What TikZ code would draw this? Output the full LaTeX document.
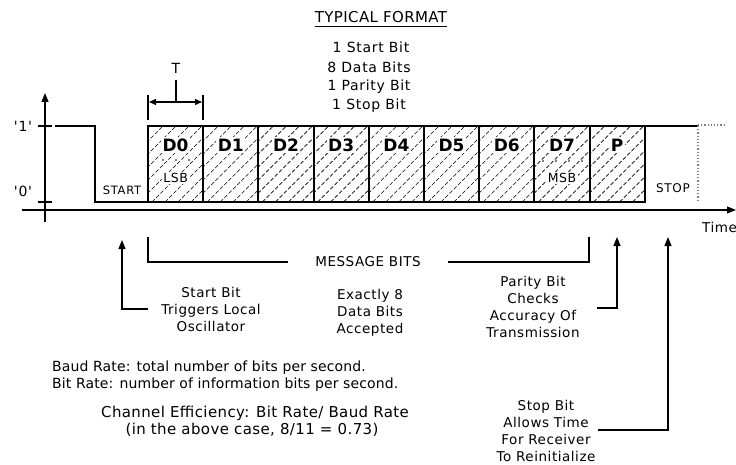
\documentclass[tikz,border=0pt]{standalone}
\usepackage{fontspec}
\setmainfont{DejaVu Sans}
\newfontfamily\fannot[LetterSpace=4]{DejaVu Sans}
\newfontfamily\flist[LetterSpace=5]{DejaVu Sans}
\newfontfamily\fwide[LetterSpace=2.5]{DejaVu Sans}
\newfontfamily\fbaud[LetterSpace=1]{DejaVu Sans}
\newfontfamily\fsmall[LetterSpace=6]{DejaVu Sans}
\usetikzlibrary{arrows.meta}
\tikzset{
  sig/.style={line width=2pt},
  thin/.style={line width=1.3pt},
  tri/.style={-{Triangle[length=9pt,width=7pt]}},
  txt/.style={inner sep=0pt, align=center},
  annot/.style={txt, font=\fannot\fontsize{13.5}{17}\selectfont},
  listtxt/.style={txt, font=\flist\fontsize{14}{17}\selectfont},
  widetxt/.style={txt, font=\fwide\fontsize{15}{17}\selectfont},
  baudtxt/.style={txt, font=\fbaud\fontsize{14}{17}\selectfont},
  smalltxt/.style={txt, font=\fsmall\fontsize{11.5}{14}\selectfont},
  bitlbl/.style={inner sep=1.5pt, fill=white, font=\fontsize{17}{17}\bfseries\selectfont},
  sublbl/.style={inner sep=1.5pt, fill=white, font=\fannot\fontsize{12.5}{12.5}\selectfont},
  hatch/.style={line width=0.6pt, dash pattern=on 4pt off 2pt},
}
\begin{document}
\begin{tikzpicture}[x=1pt,y=-1pt]
\useasboundingbox (0,0) rectangle (736,465);
% hatched boxes
\foreach \i in {0,...,8} {
  \pgfmathsetmacro{\xa}{148+55.2*\i}
  \pgfmathsetmacro{\xb}{148+55.2*(\i+1)}
  \begin{scope}
    \clip (\xa,126) rectangle (\xb,202);
    \foreach \k in {-100,-87,...,100} {
      \draw[hatch] (\xa+\k,202) -- (\xa+\k+76,126);
    }
  \end{scope}
  \draw[sig] (\xa,126) rectangle (\xb,202);
}
% labels
\node[bitlbl] (d0) at (175.6,145) {D0};
\node[bitlbl] (d1) at (230.8,145) {D1};
\node[bitlbl] (d2) at (286.0,145) {D2};
\node[bitlbl] (d3) at (341.2,145) {D3};
\node[bitlbl] (d4) at (396.4,145) {D4};
\node[bitlbl] (d5) at (451.6,145) {D5};
\node[bitlbl] (d6) at (506.8,145) {D6};
\node[bitlbl] (d7) at (562.0,145) {D7};
\node[bitlbl] (p) at (617.2,145) {P};
\node[sublbl] (lsb) at (175.6,178) {LSB};
\node[sublbl] (msb) at (562.0,178) {MSB};
\foreach \x in {163,176,189} \fill (\x,160) circle (0.8pt);
\foreach \x in {543,556,569,582} \fill (\x,161) circle (0.8pt);
% signal
\draw[sig] (55,126) -- (95,126) -- (95,202) -- (148,202) -- (148,126) -- (698,126);
\draw[line width=1.2pt, gray, dotted] (698,126) -- (698,200);
\draw[line width=1.2pt, gray, dotted] (698,125) -- (726,125);
% axes
\coordinate (ya) at (45,222);
\coordinate (yb) at (45,93);
\draw[thin, tri] (ya) -- (yb);
\coordinate (xa) at (22,210);
\coordinate (xb) at (736,210);
\draw[thin, tri] (xa) -- (xb);
\draw[thin] (38,126) -- (52,126);
\draw[thin] (38,202) -- (52,202);
\node[listtxt] (one) at (23,126) {'1'};
\node[listtxt] (zero) at (23,191) {'0'};
\node[annot, anchor=east] (time) at (737,227) {Time};
\node[smalltxt] (start) at (122,190) {START};
\node[smalltxt, font=\fsmall\fontsize{12}{14}\selectfont] (stop) at (673,188) {STOP};
% T dimension
\draw[thin] (148,95) -- (148,120);
\draw[thin] (203,95) -- (203,120);
\draw[thin, {Triangle[length=7pt,width=6pt]}-{Triangle[length=7pt,width=6pt]}] (149,102) -- (202,102);
\draw[thin] (176,80) -- (176,102);
\node[listtxt] (T) at (176,68) {T};
% top text
\node[widetxt] (title) at (381,17) {TYPICAL FORMAT};
\draw[line width=1pt] (title.south west |- 0,27) -- (title.south east |- 0,27);
\node[listtxt] (f1) at (371,47) {1 Start Bit};
\node[listtxt] (f2) at (369,67) {8 Data Bits};
\node[listtxt] (f3) at (369,87) {1 Parity Bit};
\node[listtxt] (f4) at (369,106) {1 Stop Bit};
% lower annotations
\node[annot] (startbit) at (211,309) {Start Bit\\Triggers Local\\Oscillator};
\coordinate (sa) at (148,309);
\coordinate (sb) at (122,309);
\coordinate (sc) at (122,240);
\draw[thin, tri] (sa) -- (sb) -- (sc);
\node[annot] (msg) at (368,262) {MESSAGE BITS};
\coordinate (ma) at (148,237);
\coordinate (mb) at (148,262);
\coordinate (mc) at (589,237);
\coordinate (md) at (589,262);
\draw[thin] (ma) -- (mb) -- (288,262);
\draw[thin] (448,262) -- (md) -- (mc);
\node[annot] (exact) at (370,313) {Exactly 8\\Data Bits\\Accepted};
\node[annot] (parity) at (533,307) {Parity Bit\\Checks\\Accuracy Of\\Transmission};
\coordinate (pa) at (597,308);
\coordinate (pb) at (617,308);
\coordinate (pc) at (617,237);
\draw[thin, tri] (pa) -- (pb) -- (pc);
\node[annot] (stopbit) at (546,431) {Stop Bit\\Allows Time\\For Receiver\\To Reinitialize};
\coordinate (qa) at (598,430);
\coordinate (qb) at (668,430);
\coordinate (qc) at (668,237);
\draw[thin, tri] (qa) -- (qb) -- (qc);
\node[baudtxt, anchor=west] (baud) at (52,368) {Baud Rate: total number of bits per second.};
\node[baudtxt, anchor=west] (bit) at (52,385) {Bit Rate: number of information bits per second.};
\node[widetxt] (eff) at (255,413) {Channel Efficiency: Bit Rate/ Baud Rate};
\node[widetxt] (case) at (252,430) {(in the above case, 8/11 = 0.73)};
\end{tikzpicture}
\end{document}
